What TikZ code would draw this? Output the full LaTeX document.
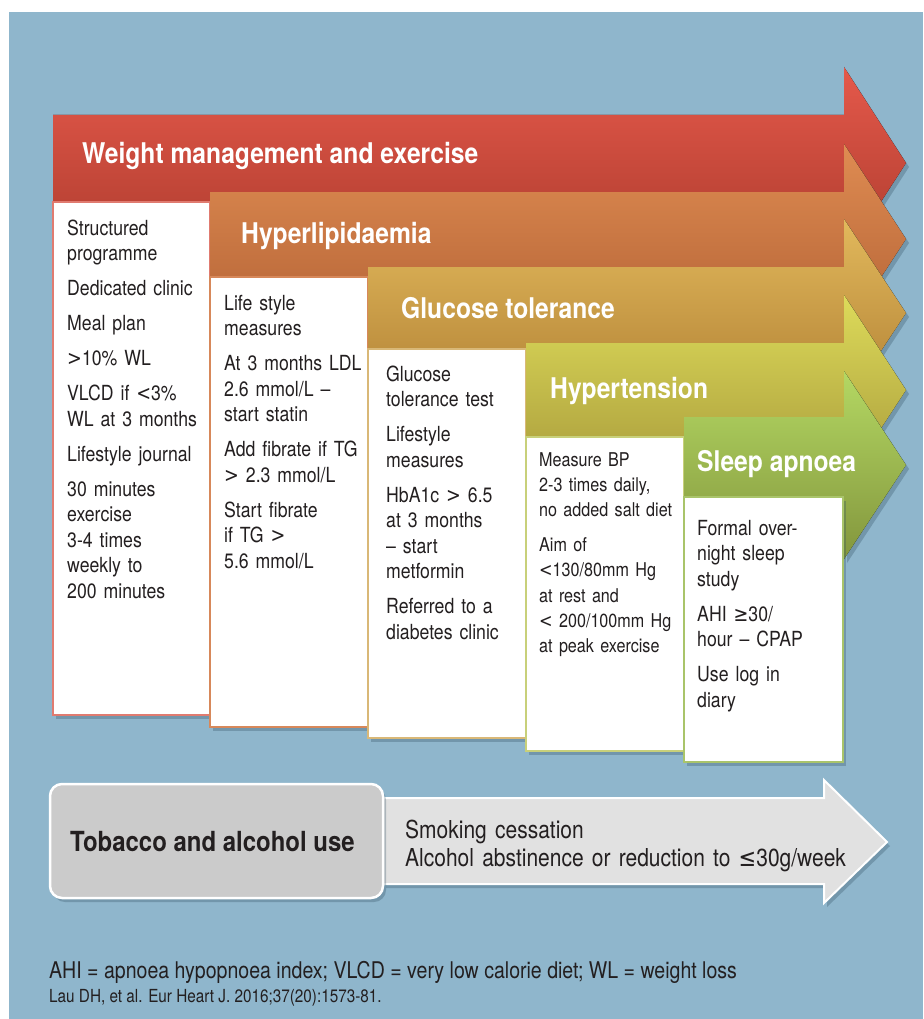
\documentclass[tikz,border=0pt]{standalone}
\usepackage{fontspec}
\setmainfont{TeX Gyre Heros}[FakeStretch=0.85]
\newfontfamily\headfont{TeX Gyre Heros}[FakeStretch=0.865]
\newfontfamily\glyphfont{DejaVu Sans}[FakeStretch=0.85]
\usetikzlibrary{shadows}
\definecolor{bgblue}{HTML}{8FB6CC}
\definecolor{shadowblue}{HTML}{2F4E60}
\definecolor{txtdark}{HTML}{231F20}
\definecolor{redtop}{HTML}{E5594B}
\definecolor{redbot}{HTML}{AC3B2D}
\definecolor{redline}{HTML}{E07B70}
\definecolor{orangetop}{HTML}{DF8C52}
\definecolor{orangebot}{HTML}{B36235}
\definecolor{orangeline}{HTML}{D7885A}
\definecolor{goldtop}{HTML}{E2B95C}
\definecolor{goldbot}{HTML}{B07F33}
\definecolor{goldline}{HTML}{D9B877}
\definecolor{hypertop}{HTML}{DDDB5A}
\definecolor{hyperbot}{HTML}{A7993A}
\definecolor{hyperline}{HTML}{C8D07A}
\definecolor{sleeptop}{HTML}{B4D863}
\definecolor{sleepbot}{HTML}{83963D}
\definecolor{sleepline}{HTML}{A9C46A}
\definecolor{greybox}{HTML}{CBCBCB}
\definecolor{greyarrow}{HTML}{E1E1E1}
\newcommand{\lteq}{{\glyphfont ≤}}
\newcommand{\gteq}{{\glyphfont ≥}}
\newcommand{\ltsign}{{\glyphfont <}}
\newcommand{\gtsign}{{\glyphfont >}}
\tikzset{
  shade2/.style={drop shadow={shadow xshift=3pt,shadow yshift=-4pt,opacity=.3,fill=shadowblue}},
  band/.style={shade2},
  redband/.style={band,top color=redtop,bottom color=redbot},
  orangeband/.style={band,top color=orangetop,bottom color=orangebot},
  goldband/.style={band,top color=goldtop,bottom color=goldbot},
  hyperband/.style={band,top color=hypertop,bottom color=hyperbot},
  sleepband/.style={band,top color=sleeptop,bottom color=sleepbot},
  colbox/.style={shade2,fill=white,line width=1.5pt,draw=#1},
  headtext/.style={anchor=base west,inner sep=0pt,text=white,
    font=\headfont\bfseries\fontsize{28.5}{30}\selectfont},
  coltext/.style={anchor=base west,inner sep=0pt,text=txtdark,
    text width=#1,align=left,font=\fontsize{20.8}{25.5}\selectfont},
  coltext/.default=150pt,
  plaintext/.style={anchor=base west,inner sep=0pt,text=txtdark}
}

\begin{document}
\begin{tikzpicture}[x=1pt,y=-1pt]
  \useasboundingbox (0,0) rectangle (923,1019);
  \fill[white] (0,0) rectangle (923,1019);
  \fill[bgblue] (9,12) rectangle (923,1019);

  % weight management
  \fill[redband] (53,115) -- (844,115) -- (844,67) -- (906,163) -- (844,259)
    -- (844,211) -- (53,211) -- cycle;
  \draw[colbox=redline] (53,202) rectangle (210,715);
  \node[headtext] (wmhead) at (82,164) {Weight management and exercise};
  \node[coltext] (wmtext) at (67,235) {Structured\\programme\\[9.5pt]%
    Dedicated clinic\\[9.5pt]Meal plan\\[9.5pt]\gtsign10\% WL\\[9.5pt]%
    VLCD if \ltsign3\%\\WL at 3 months\\[9.5pt]Lifestyle journal\\[9.5pt]%
    30 minutes\\exercise\\3-4 times\\weekly to\\200 minutes};

  % hyperlipidaemia
  \fill[orangeband] (210,192) -- (844,192) -- (844,144) -- (906,239) -- (844,334)
    -- (844,286) -- (210,286) -- cycle;
  \draw[colbox=orangeline] (210,277) rectangle (368,727);
  \node[headtext] (lipidhead) at (241,243) {Hyperlipidaemia};
  \node[coltext] (lipidtext) at (224,310) {Life style\\measures\\[9.5pt]%
    At 3 months LDL\\2.6 mmol/L --\\start statin\\[9.5pt]%
    Add fibrate if TG\\\gtsign{} 2.3 mmol/L\\[9.5pt]%
    Start fibrate\\if TG \gtsign\\5.6 mmol/L};

  % glucose
  \fill[goldband] (368,267) -- (844,267) -- (844,219) -- (906,313) -- (844,407)
    -- (844,359) -- (368,359) -- cycle;
  \draw[colbox=goldline] (368,349) rectangle (526,738);
  \node[headtext] (gluchead) at (401,318) {Glucose tolerance};
  \node[coltext] (glutext) at (386,381) {Glucose\\tolerance test\\[9.5pt]%
    Lifestyle\\measures\\[9.5pt]%
    HbA1c \gtsign{} 6.5\\at 3 months\\-- start\\metformin\\[9.5pt]%
    Referred to a\\diabetes clinic};

  % hypertension
  \fill[hyperband] (526,343) -- (844,343) -- (844,295) -- (906,390) -- (844,485)
    -- (844,437) -- (526,437) -- cycle;
  \draw[colbox=hyperline] (526,437) rectangle (684,751);
  \node[headtext] (bphead) at (550,398) {Hypertension};
  \node[coltext,font=\fontsize{19}{25.3}\selectfont] (bptext) at (539,466)
    {Measure BP\\2-3 times daily,\\no added salt diet\\[9.5pt]%
    Aim of\\\ltsign130/80mm Hg\\at rest and\\\ltsign{} 200/100mm Hg\\at peak exercise};

  % sleep apnoea
  \fill[sleepband] (684,417) -- (844,417) -- (844,371) -- (906,465) -- (844,559)
    -- (844,513) -- (684,513) -- cycle;
  \draw[colbox=sleepline] (684,497) rectangle (843,762);
  \node[headtext] (sleephead) at (697,471) {Sleep apnoea};
  \node[coltext] (sleeptext) at (697,535) {Formal over-\\night sleep\\study\\[9.5pt]%
    AHI \gteq30/\\hour -- CPAP\\[9.5pt]Use log in\\diary};

  % tobacco and alcohol
  \filldraw[shade2,fill=greyarrow,draw=white,line width=2pt]
    (383,798) -- (824,798) -- (824,780) -- (887,842) -- (824,903) -- (824,884)
    -- (383,884) -- cycle;
  \filldraw[shade2,fill=greybox,draw=white,line width=2.5pt,rounded corners=12pt]
    (50,784) rectangle (383,898);
  \node[plaintext,font=\headfont\bfseries\fontsize{27.7}{30}\selectfont] (tobhead)
    at (70,851) {Tobacco and alcohol use};
  \node[plaintext,text width=460pt,align=left,font=\fontsize{24.7}{28}\selectfont]
    (tobtext) at (405,838) {Smoking cessation\\
    Alcohol abstinence or reduction to \lteq30g/week};

  \node[plaintext,font=\fontsize{23}{25}\selectfont] (abbrev) at (49,978)
    {AHI = apnoea hypopnoea index; VLCD = very low calorie diet; WL = weight loss};
  \node[plaintext,font=\fontsize{18}{20}\selectfont] (source) at (49,1002)
    {Lau DH, et al. Eur Heart J. 2016;37(20):1573-81.};
\end{tikzpicture}
\end{document}
